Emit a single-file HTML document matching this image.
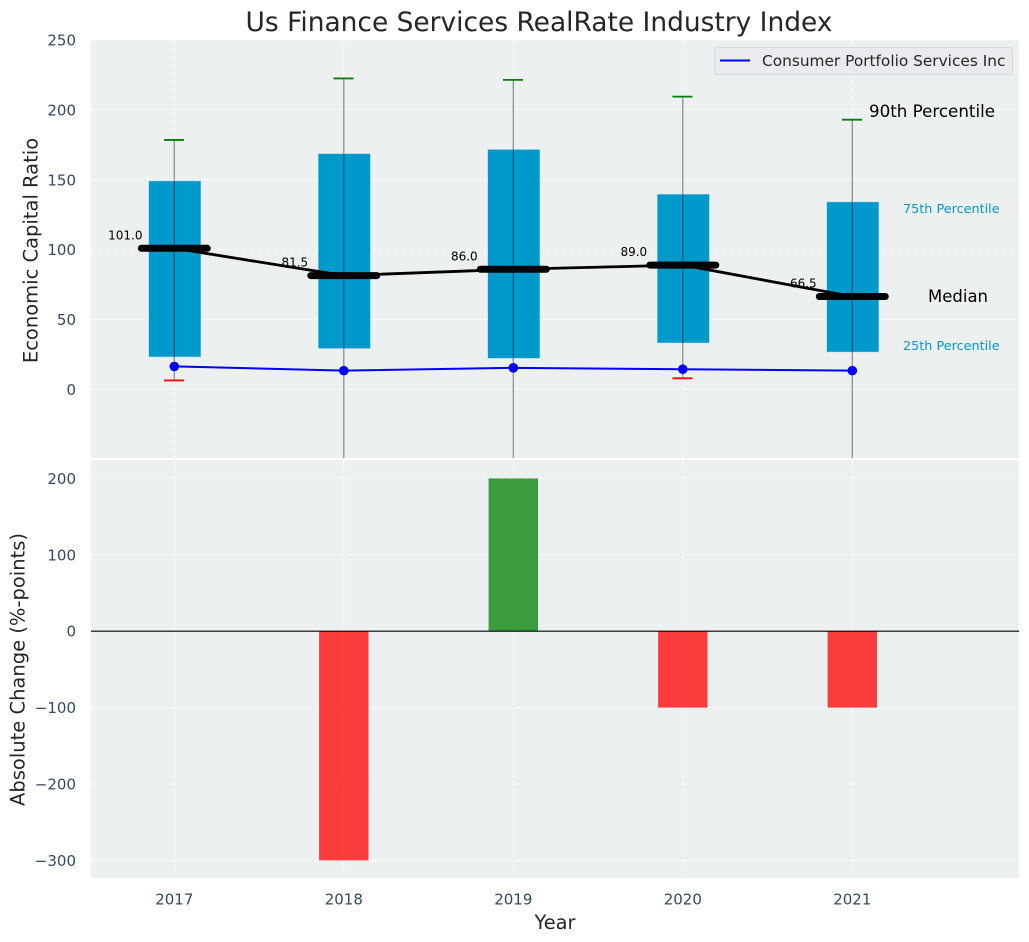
<!DOCTYPE html>
<html lang="en">
<head>
<meta charset="utf-8">
<title>Us Finance Services RealRate Industry Index</title>
<style>
html,body{margin:0;padding:0;background:#fff;}
svg{display:block;}
text{font-family:"DejaVu Sans","Liberation Sans",sans-serif;}
</style>
</head>
<body>
<svg id="chart" xmlns="http://www.w3.org/2000/svg" width="1029" height="942" viewBox="0 0 1029 942">
  <defs>
    <clipPath id="clip-top"><rect x="91" y="40" width="928" height="418"/></clipPath>
    <clipPath id="clip-bottom"><rect x="91" y="460" width="928" height="418"/></clipPath>
  </defs>
  <text x="539" y="31" text-anchor="middle" font-size="26.45" fill="#262626">Us Finance Services RealRate Industry Index</text>
  <rect x="91" y="40" width="928" height="418" fill="#ecf0f1"/>
  <rect x="91" y="460" width="928" height="418" fill="#ecf0f1"/>
  <g id="grid"></g>
  <g id="top-marks" clip-path="url(#clip-top)"></g>
  <g id="bottom-marks" clip-path="url(#clip-bottom)"></g>
  <g id="ticks"></g>
  <text transform="translate(37.5,250.5) rotate(-90)" text-anchor="middle" font-size="19.5" fill="#262626">Economic Capital Ratio</text>
  <text transform="translate(24.5,669.5) rotate(-90)" text-anchor="middle" font-size="19.5" fill="#262626">Absolute Change (%-points)</text>
  <text x="555" y="929" text-anchor="middle" font-size="19.4" fill="#262626">Year</text>
  <text x="869" y="117" font-size="16.7" fill="#000">90th Percentile</text>
  <text x="903" y="213" font-size="12.8" fill="#0099cc">75th Percentile</text>
  <text x="928" y="302" font-size="16.5" fill="#000">Median</text>
  <text x="903" y="350" font-size="12.8" fill="#0099cc">25th Percentile</text>
  <g>
    <rect x="714.5" y="47.5" width="298" height="27" rx="3" fill="#e9ebef" stroke="#d5d8dc" stroke-width="1"/>
    <line x1="720" y1="60.5" x2="750" y2="60.5" stroke="#0000ff" stroke-width="2"/>
    <text x="762" y="66" font-size="15.35" fill="#262626">Consumer Portfolio Services Inc</text>
  </g>
</svg>
<script>
var years = [2017, 2018, 2019, 2020, 2021];
var p90 = [178.5, 222.5, 221.5, 209.5, 193];
var p75 = [149, 168.5, 171.5, 139.5, 134];
var median = [101, 81.5, 86, 89, 66.5];
var p25 = [23.5, 29.5, 22.5, 33.5, 27];
var p10 = [6.5, -120, -120, 8, -120];
var company = [16.5, 13.5, 15.5, 14.5, 13.5];
var change = [0, -300, 200, -100, -100];
var topTicks = [0, 50, 100, 150, 200, 250];
var bottomTicks = [-300, -200, -100, 0, 100, 200];

var NS = 'http://www.w3.org/2000/svg';
function xPos(v) { return 174.3 + (v - 2017) * 169.5; }
function yTop(v) { return 389.5 - v * 1.398; }
function yBottom(v) { return 631.2 - v * 0.764; }
function make(parent, tag, attrs, name) {
  var el = document.createElementNS(NS, tag);
  for (var k in attrs) { el.setAttribute(k, attrs[k]); }
  
  
  parent.appendChild(el);
  return el;
}
var grid = document.getElementById('grid');
var tickLayer = document.getElementById('ticks');
var topMarks = document.getElementById('top-marks');
var bottomMarks = document.getElementById('bottom-marks');
var gridStyle = { stroke: '#ffffff', 'stroke-width': 1, 'stroke-dasharray': '5 3', 'stroke-opacity': 0.85 };
function gridLine(x1, y1, x2, y2, name) {
  var a = { x1: x1, y1: y1, x2: x2, y2: y2 };
  for (var k in gridStyle) { a[k] = gridStyle[k]; }
  make(grid, 'line', a, name);
}
function fmt(v) { return String(v).replace('-', '\u2212'); }

years.forEach(function (yr) {
  var x = xPos(yr);
  gridLine(x, 40, x, 458, 'top-x-grid-' + yr);
  gridLine(x, 460, x, 878, 'bottom-x-grid-' + yr);
  make(tickLayer, 'text', { x: x, y: 904.5, 'text-anchor': 'middle', 'font-size': 15, fill: '#34495e' }, 'x-tick-' + yr).textContent = yr;
});
topTicks.forEach(function (t) {
  var y = yTop(t);
  gridLine(91, y, 1019, y, 'top-y-grid-' + t);
  make(tickLayer, 'text', { x: 76, y: y + 5.5, 'text-anchor': 'end', 'font-size': 15, fill: '#34495e' }, 'top-y-tick-' + t).textContent = fmt(t);
});
bottomTicks.forEach(function (t) {
  var y = yBottom(t);
  gridLine(91, y, 1019, y, 'bottom-y-grid-' + t);
  make(tickLayer, 'text', { x: 76, y: y + 5.5, 'text-anchor': 'end', 'font-size': 15, fill: '#34495e' }, 'bottom-y-tick-' + t).textContent = fmt(t);
});

years.forEach(function (yr, i) {
  var x = xPos(yr);
  make(topMarks, 'rect', { x: x - 25.3, y: yTop(p75[i]), width: 51.6, height: yTop(p25[i]) - yTop(p75[i]), fill: '#0099cc', stroke: '#0099cc', 'stroke-opacity': 0.3, 'stroke-width': 1 }, 'box-' + yr);
});
years.forEach(function (yr, i) {
  var x = xPos(yr);
  make(topMarks, 'line', { x1: x, y1: yTop(p90[i]), x2: x, y2: yTop(p10[i]), stroke: '#000', 'stroke-opacity': 0.45, 'stroke-width': 1.2 }, 'whisker-' + yr);
  make(topMarks, 'line', { x1: x - 10.3, y1: yTop(p90[i]), x2: x + 9.7, y2: yTop(p90[i]), stroke: '#008000', 'stroke-width': 1.8 }, 'cap-90th-' + yr);
  make(topMarks, 'line', { x1: x - 10.3, y1: yTop(p10[i]), x2: x + 9.7, y2: yTop(p10[i]), stroke: '#ff0000', 'stroke-width': 1.8 }, 'cap-10th-' + yr);
});
make(topMarks, 'polyline', {
  points: years.map(function (yr, i) { return xPos(yr) + ',' + yTop(median[i]); }).join(' '),
  fill: 'none', stroke: '#000', 'stroke-width': 2.8
}, 'median-trend-line');
years.forEach(function (yr, i) {
  var x = xPos(yr), y = yTop(median[i]);
  make(topMarks, 'line', { x1: x - 33, y1: y, x2: x + 33, y2: y, stroke: '#000', 'stroke-width': 7, 'stroke-linecap': 'round' }, 'median-bar-' + yr);
  make(topMarks, 'text', { x: x - 49, y: y - 9, 'text-anchor': 'middle', 'font-size': 12, fill: '#000' }, 'median-value-' + yr).textContent = median[i].toFixed(1);
});
make(topMarks, 'polyline', {
  points: years.map(function (yr, i) { return xPos(yr) + ',' + yTop(company[i]); }).join(' '),
  fill: 'none', stroke: '#0000ff', 'stroke-width': 2
}, 'company-line');
years.forEach(function (yr, i) {
  make(topMarks, 'circle', { cx: xPos(yr), cy: yTop(company[i]), r: 4.8, fill: '#0000ff' }, 'company-point-' + yr);
});

years.forEach(function (yr, i) {
  var x = xPos(yr), y0 = yBottom(0), y1 = yBottom(change[i]);
  if (change[i] === 0) { return; }
  make(bottomMarks, 'rect', {
    x: x - 24.7, y: Math.min(y0, y1), width: 49.4, height: Math.abs(y1 - y0),
    fill: change[i] > 0 ? '#008000' : '#ff0000', 'fill-opacity': 0.75
  }, 'change-bar-' + yr);
});
make(bottomMarks, 'line', { x1: 91, y1: yBottom(0), x2: 1019, y2: yBottom(0), stroke: '#000', 'stroke-width': 1.1 }, 'zero-line');
</script>
</body>
</html>
